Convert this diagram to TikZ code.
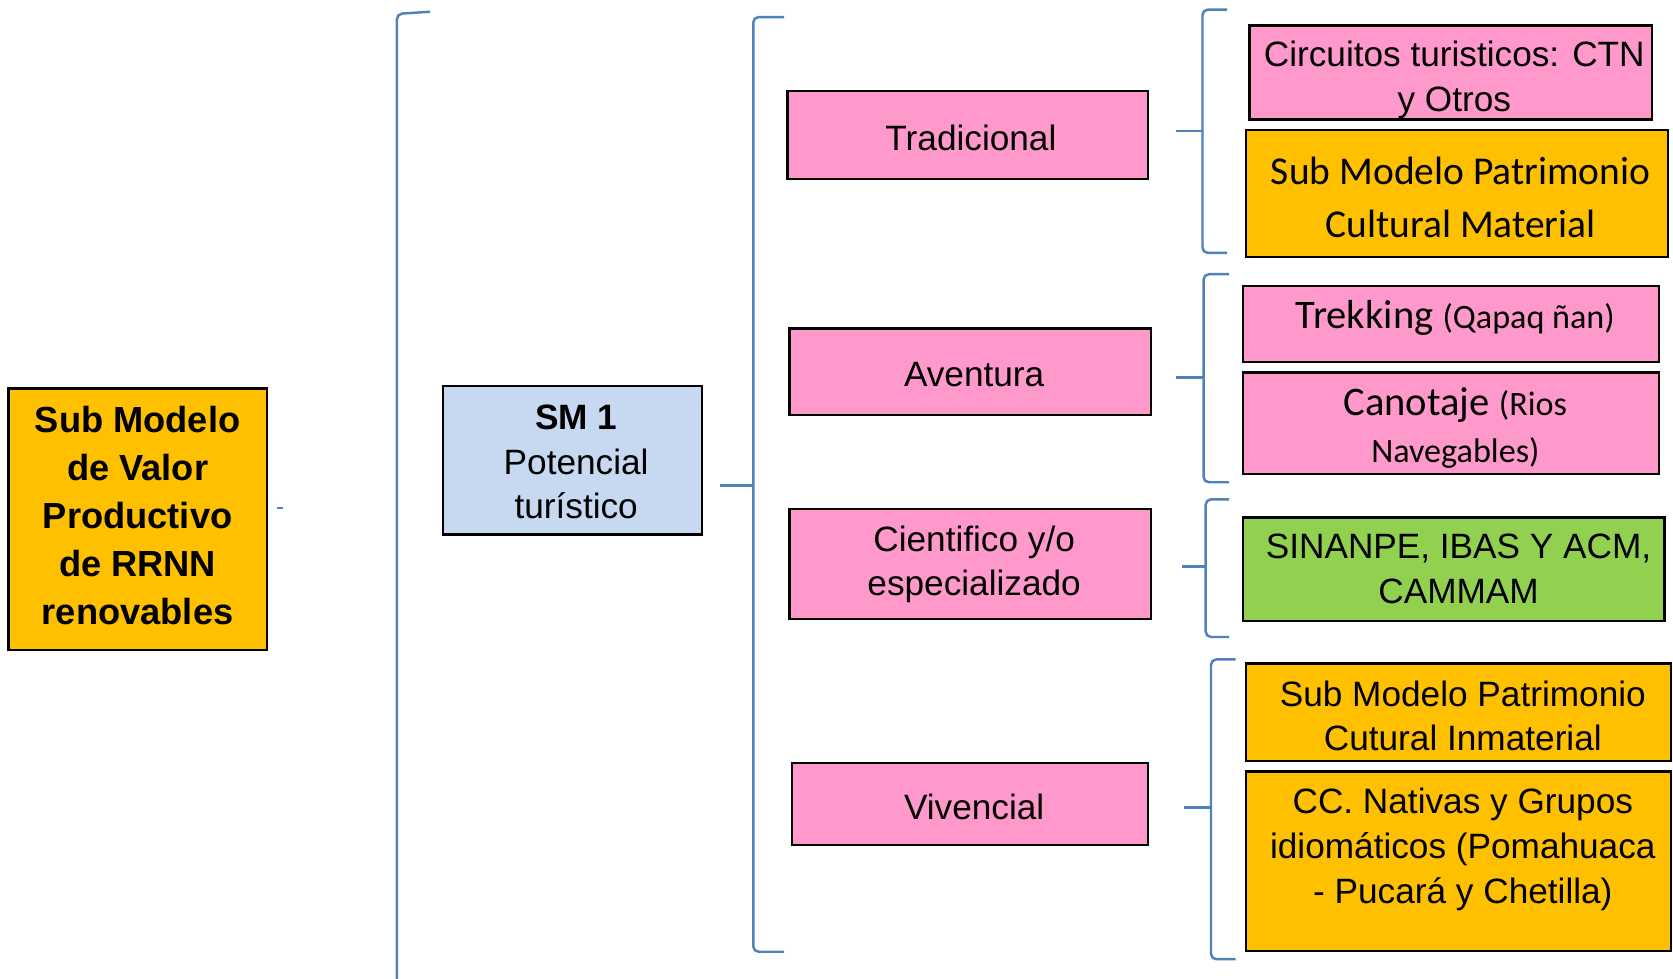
\documentclass[tikz,border=0pt]{standalone}
\usepackage{fontspec}
\setmainfont{Liberation Sans}
\newfontfamily\carl{Carlito}
\definecolor{pinkbox}{HTML}{FF99CC}
\definecolor{orangebox}{HTML}{FFC000}
\definecolor{greenbox}{HTML}{92D050}
\definecolor{bluebox}{HTML}{C6D9F1}
\definecolor{brkblue}{HTML}{4F81BD}
\tikzset{
  boxbase/.style={draw=black, line width=2.2pt, inner sep=0pt},
  pinkb/.style={boxbase, fill=pinkbox},
  orangeb/.style={boxbase, fill=orangebox},
  greenb/.style={boxbase, fill=greenbox},
  blueb/.style={boxbase, fill=bluebox},
  arialtxt/.style={align=center, inner sep=0pt, font=\fontsize{33}{42}\selectfont},
  carltxt/.style={align=center, inner sep=0pt, font=\carl\fontsize{37}{49}\selectfont},
  brkline/.style={draw=brkblue, line width=2.3pt, rounded corners=5pt},
}
\newcommand{\mybox}[6]{% name, style, cx, cy, w, h
  \node[#2, minimum width=#5pt, minimum height=#6pt] (#1) at (#3,#4) {};}
\newcommand{\mybrk}[7]{% name, x, ytop, ybot, xright, ytick, xleft
  \coordinate (#1) at (#7,#6);
  \draw[brkline] (#5,#3) -- (#2,#3) -- (#2,#4) -- (#5,#4);
  \draw[brkline, rounded corners=0pt] (#1) -- (#2,#6);}
\begin{document}
\begin{tikzpicture}[x=1pt,y=-1pt]
\useasboundingbox[fill=white] (0,0) rectangle (1568,917);

% boxes
\mybox{L}{orangeb}{129}{486.5}{242}{245}
\mybox{SM}{blueb}{536.5}{431.5}{243}{139}
\mybox{TR}{pinkb}{907}{126.5}{338}{83}
\mybox{AV}{pinkb}{909.5}{348.5}{339}{81}
\mybox{CI}{pinkb}{909.5}{528.5}{339}{103}
\mybox{VI}{pinkb}{909}{753.5}{334}{77}
\mybox{CT}{pinkb}{1359.5}{68}{377}{88}
\mybox{PM}{orangeb}{1365.5}{181.5}{395}{119}
\mybox{TK}{pinkb}{1360}{303.5}{390}{71}
\mybox{CN}{pinkb}{1360}{396.5}{390}{95}
\mybox{SN}{greenb}{1362.5}{533.5}{395}{97}
\mybox{PI}{orangeb}{1367}{667.5}{398}{91}
\mybox{CC}{orangeb}{1367}{807}{398}{168}

% texts
\node[align=center, inner sep=0pt, font=\bfseries\fontsize{34}{45}\selectfont] (Lt) at (129,483)
  {Sub Modelo\\de Valor\\Productivo\\de RRNN\\renovables};
\node[arialtxt] (SMt) at (540,433) {\textbf{SM 1}\\Potencial\\turístico};
\node[arialtxt] (TRt) at (910,129) {Tradicional};
\node[arialtxt] (AVt) at (913,351) {Aventura};
\node[arialtxt] (CIt) at (913,529) {Cientifico y/o\\especializado};
\node[arialtxt] (VIt) at (913,756) {Vivencial};
\node[arialtxt] (CTt) at (1363,75) {Circuitos turisticos: CTN\\y Otros};
\node[carltxt] (PMt) at (1369,185) {Sub Modelo Patrimonio\\Cultural Material};
\node[carltxt, font=\carl\fontsize{38}{44}\selectfont] (TKt) at (1364,298)
  {Trekking {\fontsize{32}{44}\selectfont(Qapaq ñan)}};
\node[carltxt, font=\carl\fontsize{38}{44}\selectfont] (CNt) at (1364,401)
  {Canotaje {\fontsize{32}{44}\selectfont(Rios}\\{\fontsize{32}{44}\selectfont Navegables)}};
\node[arialtxt] (SNt) at (1367,533) {SINANPE, IBAS Y ACM,\\CAMMAM};
\node[arialtxt] (PIt) at (1371,671) {Sub Modelo Patrimonio\\Cutural Inmaterial};
\node[arialtxt] (CCt) at (1371,796) {CC. Nativas y Grupos\\idiomáticos (Pomahuaca\\- Pucará y Chetilla)};

% brackets
\draw[brkline] (403,11) -- (372,13) -- (372,930);
\coordinate (Ldash0) at (260,476);
\coordinate (Ldash) at (265,476);
\draw[draw=brkblue, line width=1.5pt] (Ldash0) -- (Ldash);
\mybrk{b2}{706}{16}{892}{735}{455}{675}
\mybrk{b3a}{1127}{9}{237}{1150}{123}{1102}
\mybrk{b3b}{1128}{257}{452}{1152}{354}{1102}
\mybrk{b3c}{1130}{468}{597}{1152}{531}{1108}
\mybrk{b3d}{1135}{618}{899}{1158}{757}{1110}
\end{tikzpicture}
\end{document}
